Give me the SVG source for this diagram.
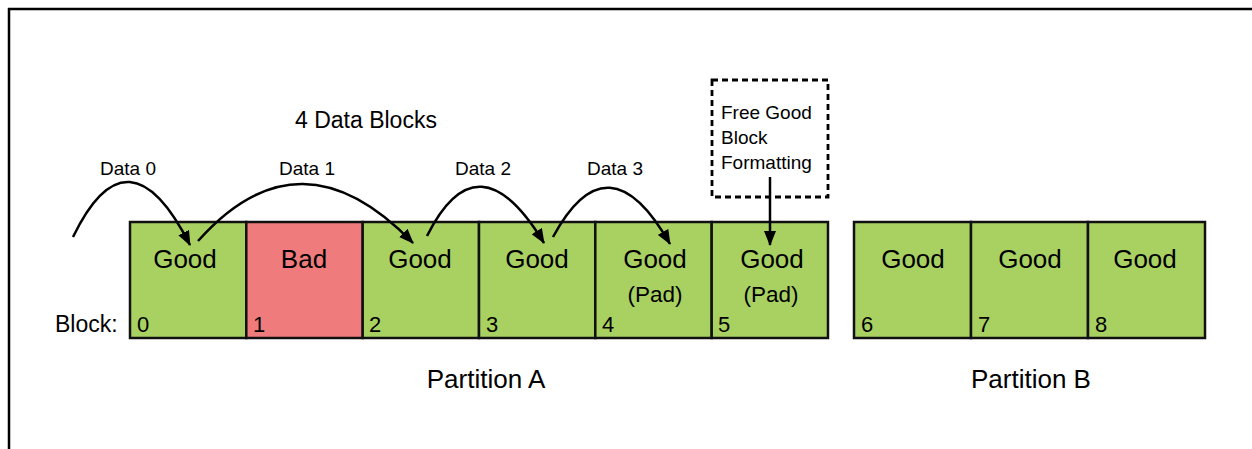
<svg xmlns="http://www.w3.org/2000/svg" width="1252" height="449" viewBox="0 0 1252 449">
<style>
.t{font-family:"Liberation Sans",Arial,sans-serif;fill:#000}
.g{fill:#a9d162;stroke:#111;stroke-width:2.5}
.b{fill:#f07b7c;stroke:#111;stroke-width:2.5}
.lbl{font-size:26px;text-anchor:middle}
.pad{font-size:22.5px;text-anchor:middle}
.num{font-size:22px}
.dl{font-size:19px;text-anchor:middle}
.arc{fill:none;stroke:#000;stroke-width:2.5}
</style>
<defs>
<marker id="ah" viewBox="0 0 15 12" refX="14" refY="6" markerWidth="15" markerHeight="12" markerUnits="userSpaceOnUse" orient="auto">
<path d="M0,0 L15,6 L0,12 Z" fill="#000"/>
</marker>
</defs>
<g id="frame">
<line x1="8" y1="9" x2="1252" y2="9" stroke="#000" stroke-width="2.5"/>
<line x1="9" y1="8" x2="9" y2="449" stroke="#000" stroke-width="2.5"/>
</g>
<text class="t" x="55" y="332" style="font-size:23px">Block:</text>
<g id="block0"><rect class="g" x="130" y="222" width="116.3" height="116"/><text class="t lbl" x="185" y="268">Good</text><text class="t num" x="137" y="332">0</text></g>
<g id="block1"><rect class="b" x="246.3" y="222" width="116.4" height="116"/><text class="t lbl" x="304" y="268">Bad</text><text class="t num" x="253" y="332">1</text></g>
<g id="block2"><rect class="g" x="362.7" y="222" width="116.3" height="116"/><text class="t lbl" x="420" y="268">Good</text><text class="t num" x="369" y="332">2</text></g>
<g id="block3"><rect class="g" x="479" y="222" width="116.3" height="116"/><text class="t lbl" x="537" y="268">Good</text><text class="t num" x="486" y="332">3</text></g>
<g id="block4"><rect class="g" x="595.3" y="222" width="116.4" height="116"/><text class="t lbl" x="655" y="268">Good</text><text class="t pad" x="655" y="302">(Pad)</text><text class="t num" x="602" y="332">4</text></g>
<g id="block5"><rect class="g" x="711.7" y="222" width="116.3" height="116"/><text class="t lbl" x="772" y="268">Good</text><text class="t pad" x="771" y="302">(Pad)</text><text class="t num" x="718" y="332">5</text></g>
<g id="block6"><rect class="g" x="854" y="222" width="117" height="116"/><text class="t lbl" x="913" y="268">Good</text><text class="t num" x="861" y="332">6</text></g>
<g id="block7"><rect class="g" x="971" y="222" width="117" height="116"/><text class="t lbl" x="1030" y="268">Good</text><text class="t num" x="978" y="332">7</text></g>
<g id="block8"><rect class="g" x="1088" y="222" width="117" height="116"/><text class="t lbl" x="1145" y="268">Good</text><text class="t num" x="1095" y="332">8</text></g>
<g id="format-box">
<rect x="712" y="80" width="116" height="117" fill="none" stroke="#000" stroke-width="2.8" stroke-dasharray="6,4"/>
<text class="t" x="721" y="119" style="font-size:19px">Free Good</text>
<text class="t" x="721" y="144" style="font-size:19px">Block</text>
<text class="t" x="721" y="169" style="font-size:19px">Formatting</text>
</g>
<g id="labels">
<text class="t" x="295" y="128" style="font-size:23px">4 Data Blocks</text>
<text class="t dl" x="128" y="175">Data 0</text>
<text class="t dl" x="307" y="175">Data 1</text>
<text class="t dl" x="483" y="175">Data 2</text>
<text class="t dl" x="615" y="175">Data 3</text>
<text class="t" x="486" y="388" style="font-size:26px;text-anchor:middle">Partition A</text>
<text class="t" x="1031" y="388" style="font-size:26px;text-anchor:middle">Partition B</text>
</g>
<g id="connectors">
<path class="arc" d="M73,237 Q128,123 190,245" marker-end="url(#ah)"/>
<path class="arc" d="M198,241 Q300,126 413,243" marker-end="url(#ah)"/>
<path class="arc" d="M427,236 Q478,134 544,243" marker-end="url(#ah)"/>
<path class="arc" d="M553,237 Q608,135 670,244" marker-end="url(#ah)"/>
<line x1="770" y1="177" x2="770" y2="245" stroke="#000" stroke-width="2.5" marker-end="url(#ah)"/>
</g>
</svg>
